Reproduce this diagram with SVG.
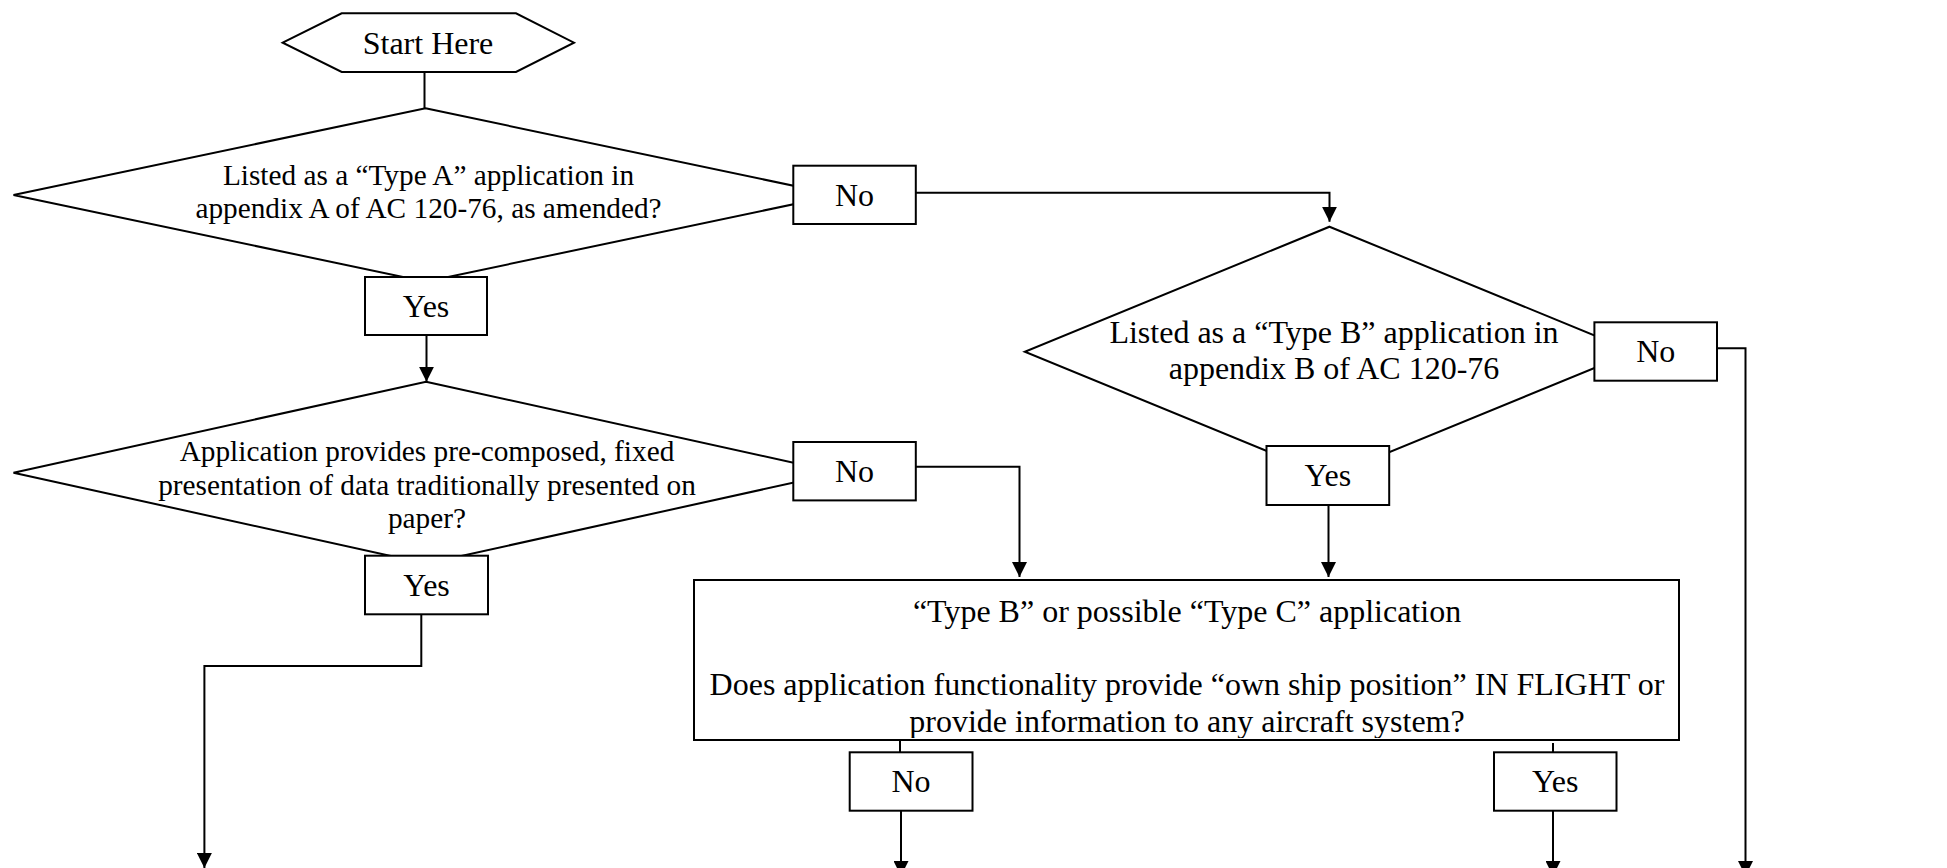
<svg xmlns="http://www.w3.org/2000/svg" width="1947" height="868" viewBox="0 0 1947 868">
<style>
.shape{fill:#fff;stroke:#000;stroke-width:2}
.conn{fill:none;stroke:#000;stroke-width:2}
text{font-family:"Liberation Serif","Times New Roman",serif;fill:#000;text-anchor:middle}
.t12{font-size:32px}
.t11{font-size:29.3px}
</style>
<defs>
<marker id="arr" markerUnits="userSpaceOnUse" markerWidth="15" markerHeight="15" refX="15" refY="7.5" orient="auto">
<path d="M0,0 L15,7.5 L0,15 z" fill="#000"/>
</marker>
<clipPath id="bigclip"><rect x="695" y="581" width="983" height="157"/></clipPath>
</defs>
<rect width="1947" height="868" fill="#fff"/>
<g id="connectors">
<path class="conn" d="M424.5,72 V108.3"/>
<path class="conn" d="M915.8,192.7 H1329.5 V221.7" marker-end="url(#arr)"/>
<path class="conn" d="M426.5,335 V381.7" marker-end="url(#arr)"/>
<path class="conn" d="M915.8,466.7 H1019.5 V577" marker-end="url(#arr)"/>
<path class="conn" d="M421.3,614.3 V666 H204.4 V868" marker-end="url(#arr)"/>
<path class="conn" d="M1328.5,505 V577" marker-end="url(#arr)"/>
<path class="conn" d="M1717,348.3 H1745.5 V876" marker-end="url(#arr)"/>
<path class="conn" d="M900,740 V752.3"/>
<path class="conn" d="M901,810.7 V876" marker-end="url(#arr)"/>
<path class="conn" d="M1553,743 V752.3"/>
<path class="conn" d="M1553,810.7 V876" marker-end="url(#arr)"/>
</g>
<g id="start">
<polygon class="shape" points="282.7,42.7 341.7,13.3 516,13.3 574,42.7 516,72 341.7,72"/>
<text class="t12" x="428" y="53.5">Start Here</text>
</g>
<g id="decisionA">
<polygon class="shape" points="425.5,108.3 837.5,195 425.5,281.7 13.5,195"/>
<text class="t11" x="428.5" y="184.5">Listed as a “Type A” application in</text>
<text class="t11" x="428.5" y="218">appendix A of AC 120-76, as amended?</text>
</g>
<g id="noA1">
<rect class="shape" x="793.3" y="165.7" width="122.5" height="58.3"/>
<text class="t12" x="854.5" y="205.5">No</text>
</g>
<g id="yesA1">
<rect class="shape" x="365" y="277" width="122" height="58"/>
<text class="t12" x="426" y="316.7">Yes</text>
</g>
<g id="decisionB">
<polygon class="shape" points="1329.5,226.7 1634.2,351.7 1329.5,476.7 1024.8,351.7"/>
<text class="t12" x="1334" y="342.7">Listed as a “Type B” application in</text>
<text class="t12" x="1334" y="379.4">appendix B of AC 120-76</text>
</g>
<g id="noB">
<rect class="shape" x="1594.4" y="322.3" width="122.6" height="58.4"/>
<text class="t12" x="1655.7" y="362.2">No</text>
</g>
<g id="yesB">
<rect class="shape" x="1266.5" y="446" width="122.7" height="59"/>
<text class="t12" x="1327.8" y="486.2">Yes</text>
</g>
<g id="decisionA2">
<polygon class="shape" points="426,381.7 838.5,472.7 426,563.7 13.5,472.7"/>
<text class="t11" x="427" y="461">Application provides pre-composed, fixed</text>
<text class="t11" x="427" y="494.7">presentation of data traditionally presented on</text>
<text class="t11" x="427" y="528.4">paper?</text>
</g>
<g id="noA2">
<rect class="shape" x="793.3" y="442" width="122.5" height="58.4"/>
<text class="t12" x="854.5" y="481.9">No</text>
</g>
<g id="yesA2">
<rect class="shape" x="365" y="555.7" width="123" height="58.6"/>
<text class="t12" x="426.5" y="595.7">Yes</text>
</g>
<g id="typeBC">
<rect class="shape" x="694" y="580" width="985" height="160"/>
<g clip-path="url(#bigclip)">
<text class="t12" x="1187" y="621.7">“Type B” or possible “Type C” application</text>
<text class="t12" x="1187" y="695">Does application functionality provide “own ship position” IN FLIGHT or</text>
<text class="t12" x="1187" y="731.7">provide information to any aircraft system?</text>
</g>
</g>
<g id="noC">
<rect class="shape" x="849.7" y="752.3" width="122.8" height="58.4"/>
<text class="t12" x="911" y="792.2">No</text>
</g>
<g id="yesC">
<rect class="shape" x="1494" y="752.3" width="122.5" height="58.4"/>
<text class="t12" x="1555.2" y="792.2">Yes</text>
</g>
</svg>
